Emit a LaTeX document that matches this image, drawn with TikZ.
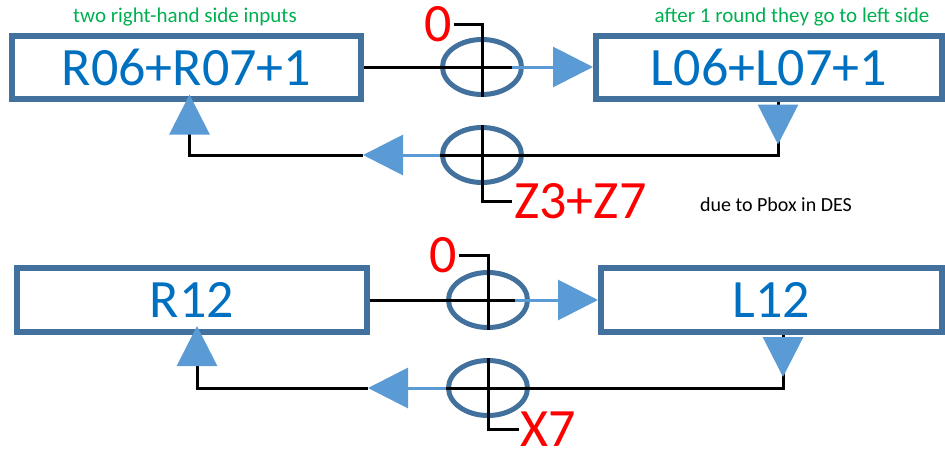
\documentclass[tikz,border=0pt]{standalone}
\usepackage{fontspec}
\setmainfont{Carlito}
\usetikzlibrary{shapes.geometric, arrows.meta, calc}

\definecolor{boxblue}{HTML}{41719C}
\definecolor{arrowblue}{HTML}{5B9BD5}
\definecolor{txtblue}{HTML}{0070C0}
\definecolor{notegreen}{HTML}{00B050}

\tikzset{
	regbox/.style={draw=boxblue, rectangle, line width=6pt, text=txtblue,
		minimum width=349pt, minimum height=63pt, inner sep=0pt,
		font=\fontsize{54}{60}\selectfont},
	xorring/.style={draw=boxblue, ellipse, line width=5pt,
		minimum width=79pt, minimum height=55pt, inner sep=0pt},
	redlbl/.style={text=red, inner sep=2pt, font=\fontsize{54}{60}\selectfont},
	note/.style={inner sep=0pt, font=\fontsize{21}{24}\selectfont},
	wire/.style={draw=black, line width=3pt},
	flow/.style={draw=arrowblue, line width=3pt,
		-{Triangle[length=40pt, width=40pt]}},
}

\begin{document}
\begin{tikzpicture}[x=1pt, y=-1pt]
	\useasboundingbox (0,0) rectangle (945,455);

	\node[regbox] (rtop) at (186.5,67) {R06+R07+1};
	\node[regbox, minimum width=346pt] (ltop) at (769,67) {L06+L07+1};
	\node[xorring] (xa) at (482,67) {};
	\node[xorring] (xb) at (482,155) {};
	\node[redlbl] (za) at (438,24) {0};
	\node[redlbl, anchor=west] (zb) at (512,201) {Z3+Z7};
	\node[note, text=notegreen] (na) at (185,17) {two right-hand side inputs};
	\node[note, text=notegreen] (nb) at (792,17) {after 1 round they go to left side};
	\node[note, font=\fontsize{20}{24}\selectfont] (nc) at (776,205) {due to Pbox in DES};

	\coordinate (da) at ($(ltop.south)+(9,0)$);
	\coordinate (ua) at ($(rtop.south)+(3,0)$);

	\draw[wire] (za.east) -- (za.east -| xa.center) -- (xa.south);
	\draw[wire] (xb.north) -- (xb.north |- zb.west) -- (zb.west);
	\draw[wire] (rtop.east) -- ($(xa.center)+(30,0)$);
	\draw[flow] ($(xa.center)+(30,0)$) -- (ltop.west);
	\draw[wire] (da) -- (da |- xb.center) -- (xb.west);
	\draw[flow] (xb.west) -- ++(-77,0) coordinate (ea);
	\draw[wire] (ea) -- (ua |- xb.center) -- ++(0,-24);
	\draw[flow] ($(da)+(0,5)$) -- ++(0,38);
	\draw[flow] ($(ua)+(0,30)$) -- ++(0,-37);

	\node[regbox, minimum width=350pt, minimum height=64pt] (rbot) at (192,300) {R12};
	\node[regbox, minimum width=341pt, minimum height=64pt] (lbot) at (771.5,300) {L12};
	\node[xorring] (xc) at (488,300) {};
	\node[xorring] (xd) at (488,388) {};
	\node[redlbl] (zc) at (443,255) {0};
	\node[redlbl, anchor=west, inner sep=1pt] (zd) at (519,429) {X7};

	\coordinate (dc) at ($(lbot.south)+(11.5,0)$);
	\coordinate (uc) at ($(rbot.south)+(5,0)$);

	\draw[wire] (zc.east) -- (zc.east -| xc.center) -- (xc.south);
	\draw[wire] (xd.north) -- (xd.north |- zd.west) -- (zd.west);
	\draw[wire] (rbot.east) -- ($(xc.center)+(27,0)$);
	\draw[flow] ($(xc.center)+(27,0)$) -- (lbot.west);
	\draw[wire] (dc) -- (dc |- xd.center) -- (xd.west);
	\draw[flow] (xd.west) -- ++(-78,0) coordinate (ec);
	\draw[wire] (ec) -- (uc |- xd.center) -- ++(0,-25);
	\draw[flow] ($(dc)+(0,5)$) -- ++(0,37);
	\draw[flow] ($(uc)+(0,28)$) -- ++(0,-37);
\end{tikzpicture}
\end{document}
